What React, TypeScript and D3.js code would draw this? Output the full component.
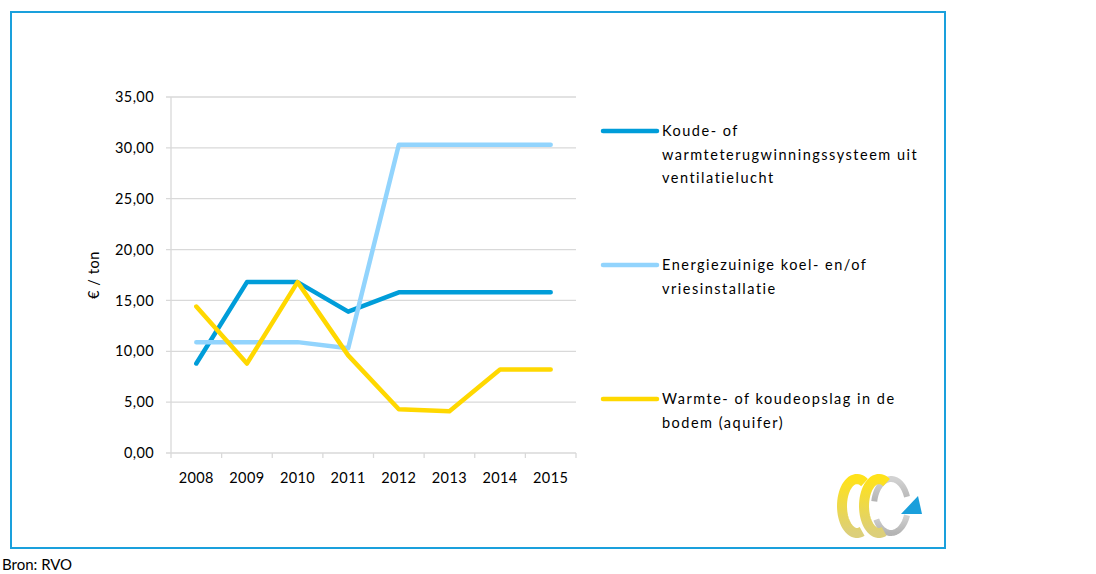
import React, { useEffect, useRef } from 'react';
import * as d3 from 'd3';

const years = ['2008', '2009', '2010', '2011', '2012', '2013', '2014', '2015'];
const koudeWarmte = [8.8, 16.8, 16.8, 13.9, 15.8, 15.8, 15.8, 15.8];
const energiezuinig = [10.9, 10.9, 10.9, 10.3, 30.3, 30.3, 30.3, 30.3];
const aquifer = [14.4, 8.8, 16.8, 9.6, 4.3, 4.1, 8.2, 8.2];
const yTicks = [0, 5, 10, 15, 20, 25, 30, 35];

const seriesNames = [
  ['Koude- of', 'warmteterugwinningssysteem uit', 'ventilatielucht'],
  ['Energiezuinige koel- en/of', 'vriesinstallatie'],
  ['Warmte- of koudeopslag in de', 'bodem (aquifer)'],
];
const seriesColors = ['#009dd9', '#92d4fd', '#ffd800'];

// point on ellipse, angle in degrees (0 = right, 90 = down)
const ep = (cx: number, cy: number, rx: number, ry: number, a: number) => {
  const r = (a * Math.PI) / 180;
  return [cx + rx * Math.cos(r), cy + ry * Math.sin(r)];
};
const arcPath = (cx: number, cy: number, rx: number, ry: number, a0: number, a1: number) => {
  const p = d3.path();
  const steps = 40;
  for (let i = 0; i <= steps; i++) {
    const [px, py] = ep(cx, cy, rx, ry, a0 + ((a1 - a0) * i) / steps);
    if (i === 0) p.moveTo(px, py);
    else p.lineTo(px, py);
  }
  return p.toString();
};

const App = () => {
  const svgRef = useRef<SVGSVGElement>(null);

  useEffect(() => {
    const svg = d3.select(svgRef.current);
    svg.selectAll('*').remove();

    const font = 'Lato, "Open Sans", sans-serif';
    const left = 171, right = 576, top = 97, bottom = 453;

    const x = d3.scaleBand().domain(years).range([left, right]);
    const y = d3.scaleLinear().domain([0, 35]).range([bottom, top]);

    // outer frame
    svg.append('rect')
      .attr('x', 11).attr('y', 12).attr('width', 934).attr('height', 536)
      .attr('fill', 'white').attr('stroke', '#1aa0dc').attr('stroke-width', 2);

    // gridlines + y labels
    yTicks.forEach(t => {
      svg.append('line')
        .attr('x1', left - 5).attr('x2', right)
        .attr('y1', y(t)).attr('y2', y(t))
        .attr('stroke', '#d9d9d9').attr('stroke-width', 1.3);
      svg.append('text')
        .attr('x', 154).attr('y', y(t)).attr('dy', '0.35em')
        .attr('text-anchor', 'end')
        .style('font-family', font).style('font-size', '14.5px').style('letter-spacing', '0.4px')
        .text(t.toFixed(2).replace('.', ','));
    });

    // y axis line
    svg.append('line')
      .attr('x1', left).attr('x2', left).attr('y1', top).attr('y2', bottom)
      .attr('stroke', '#d9d9d9').attr('stroke-width', 1.3);

    // x ticks
    const bounds = years.map(d => x(d) as number).concat([right]);
    bounds.forEach(b => {
      svg.append('line')
        .attr('x1', b).attr('x2', b).attr('y1', bottom).attr('y2', bottom + 5)
        .attr('stroke', '#d9d9d9').attr('stroke-width', 1.3);
    });
    years.forEach(yr => {
      svg.append('text')
        .attr('x', (x(yr) as number) + x.bandwidth() / 2).attr('y', 478).attr('dy', '0.35em')
        .attr('text-anchor', 'middle')
        .style('font-family', font).style('font-size', '14.5px').style('letter-spacing', '0.4px')
        .text(yr);
    });

    // y title
    svg.append('text')
      .attr('transform', `translate(99, ${(top + bottom) / 2}) rotate(-90)`)
      .attr('text-anchor', 'middle')
      .style('font-family', font).style('font-size', '14.5px').style('letter-spacing', '0.6px')
      .text('€ / ton');

    const line = d3.line<number>()
      .x((d, i) => (x(years[i]) as number) + x.bandwidth() / 2)
      .y(d => y(d));

    [koudeWarmte, energiezuinig, aquifer].forEach((vals, i) => {
      svg.append('path')
        .datum(vals)
        .attr('d', line)
        .attr('fill', 'none')
        .attr('stroke', seriesColors[i])
        .attr('stroke-width', 4.5)
        .attr('stroke-linejoin', 'round')
        .attr('stroke-linecap', 'round');
    });

    // legend
    const legendY = [131, 265, 399];
    seriesNames.forEach((lines, i) => {
      const g = svg.append('g').attr('transform', `translate(603, ${legendY[i]})`);
      g.append('line')
        .attr('x1', 0).attr('x2', 54).attr('y1', 0).attr('y2', 0)
        .attr('stroke', seriesColors[i]).attr('stroke-width', 4.5)
        .attr('stroke-linecap', 'round');
      lines.forEach((t, j) => {
        g.append('text')
          .attr('x', 59).attr('y', j * 23.5).attr('dy', '0.35em')
          .style('font-family', font).style('font-size', '14.5px').style('letter-spacing', '1.5px')
          .text(t);
      });
    });

    // logo
    const defs = svg.append('defs');
    const yg = defs.append('linearGradient').attr('id', 'yg').attr('x1', 0).attr('y1', 0).attr('x2', 0).attr('y2', 1);
    yg.append('stop').attr('offset', '0%').attr('stop-color', '#ffe21a');
    yg.append('stop').attr('offset', '100%').attr('stop-color', '#dccf7a');
    const gg = defs.append('linearGradient').attr('id', 'gg').attr('x1', 0).attr('y1', 0).attr('x2', 0).attr('y2', 1);
    gg.append('stop').attr('offset', '0%').attr('stop-color', '#d2d2d2');
    gg.append('stop').attr('offset', '100%').attr('stop-color', '#b4b4b4');

    const logo = svg.append('g').attr('fill', 'none');
    // gray ribbon: top part and lower part around the arrow
    logo.append('path')
      .attr('d', arcPath(891, 506, 17, 27, 190, 340))
      .attr('stroke', 'url(#gg)').attr('stroke-width', 6);
    logo.append('path')
      .attr('d', arcPath(891, 506, 17, 27, 20, 150))
      .attr('stroke', 'url(#gg)').attr('stroke-width', 6);
    // yellow ribbons (C shapes)
    logo.append('path')
      .attr('d', arcPath(857, 506, 15, 27, 300, 70))
      .attr('stroke', 'url(#yg)').attr('stroke-width', 10);
    logo.append('path')
      .attr('d', arcPath(879, 506, 15, 27, 300, 70))
      .attr('stroke', 'url(#yg)').attr('stroke-width', 10);
    logo.append('path')
      .attr('d', 'M901,514 L922,514 L918,496 Z')
      .attr('fill', '#1a9fdb');

    // source
    svg.append('text')
      .attr('x', 2).attr('y', 570)
      .style('font-family', font).style('font-size', '15px')
      .text('Bron: RVO');
  }, []);

  return (
    <svg
      ref={svgRef}
      width={1096}
      height={574}
      style={{ position: 'absolute', left: 0, top: 0, background: 'white' }}
    />
  );
};

export default App;
